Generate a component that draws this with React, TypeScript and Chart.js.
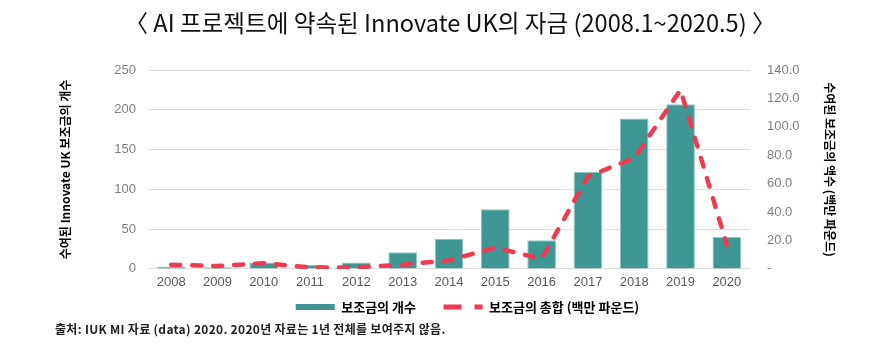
import React, { useEffect, useRef } from 'react';
import { Chart, registerables } from 'chart.js';

Chart.register(...registerables);

const years = ['2008', '2009', '2010', '2011', '2012', '2013', '2014', '2015', '2016', '2017', '2018', '2019', '2020'];
const grantCounts = [3, 2, 8, 5, 8, 21, 38, 75, 36, 122, 189, 207, 40];
const grantTotals = [3, 2, 4, 1, 1, 3, 6, 15, 7, 65, 78, 126, 17];

const countMax = 250;
const countStep = 50;
const totalMax = 140;
const totalStep = 20;

const titleText = '〈 AI 프로젝트에 약속된 Innovate UK의 자금 (2008.1~2020.5) 〉';
const countLabel = '보조금의 개수';
const totalLabel = '보조금의 총합 (백만 파운드)';
const leftAxisTitle = '수여된 Innovate UK 보조금의 개수';
const rightAxisTitle = '수여된 보조금의 액수 (백만 파운드)';
const sourceNote = '출처: IUK MI 자료 (data) 2020. 2020년 자료는 1년 전체를 보여주지 않음.';

const TEAL = '#3f9794';
const TEAL_EDGE = '#8fc6c3';
const RED = '#ef3a52';
const KR = '"Noto Sans CJK KR", "Noto Sans", sans-serif';
const LATIN = '"Liberation Sans", Arial, sans-serif';

export default function App() {
  const canvasRef = useRef<HTMLCanvasElement | null>(null);

  useEffect(() => {
    if (!canvasRef.current) return;
    const chart = new Chart(canvasRef.current, {
      type: 'bar',
      data: {
        labels: years,
        datasets: [
          {
            type: 'bar',
            label: countLabel,
            data: grantCounts,
            yAxisID: 'y',
            backgroundColor: TEAL,
            borderColor: TEAL_EDGE,
            borderWidth: 1,
            categoryPercentage: 1,
            barPercentage: 0.62,
            order: 2,
          },
          {
            type: 'line',
            label: totalLabel,
            data: grantTotals,
            yAxisID: 'y1',
            borderColor: RED,
            backgroundColor: RED,
            borderWidth: 4.5,
            borderDash: [9, 12],
            borderCapStyle: 'round',
            pointRadius: 0,
            tension: 0,
            fill: false,
            order: 1,
          },
        ],
      },
      options: {
        responsive: false,
        animation: false,
        layout: { padding: { top: 70, left: 56, right: 0, bottom: 30.5 } },
        plugins: {
          tooltip: { enabled: false },
          title: { display: false },
          legend: {
            position: 'bottom',
            labels: {
              usePointStyle: true,
              pointStyleWidth: 39,
              boxHeight: 6,
              padding: 4,
              color: '#333333',
              font: { family: KR, size: 13, weight: 'bold' },
              generateLabels: () => [
                {
                  text: countLabel + '        ',
                  fillStyle: TEAL,
                  strokeStyle: TEAL,
                  lineWidth: 0,
                  pointStyle: 'rect',
                  hidden: false,
                  datasetIndex: 0,
                },
                {
                  text: totalLabel,
                  fillStyle: RED,
                  strokeStyle: RED,
                  lineWidth: 5,
                  lineDash: [18, 13],
                  lineCap: 'butt',
                  pointStyle: 'line',
                  hidden: false,
                  datasetIndex: 1,
                },
              ],
            },
          },
        },
        scales: {
          x: {
            grid: { display: false, drawTicks: false },
            border: { display: false },
            ticks: { color: '#595959', font: { family: LATIN, size: 13 }, padding: 6, maxRotation: 0 },
          },
          y: {
            position: 'left',
            min: 0,
            max: countMax,
            ticks: { stepSize: countStep, color: '#7f7f7f', font: { family: LATIN, size: 13 }, padding: 12 },
            grid: { color: '#dedede', lineWidth: 1, drawTicks: false },
            border: { display: false },
            title: {
              display: true,
              text: leftAxisTitle,
              color: '#000000',
              font: { family: KR, size: 12, weight: 'bold' },
              padding: { top: 2, bottom: 0 },
            },
            afterFit: (scale: any) => {
              scale.width = 92;
            },
          },
          y1: {
            position: 'right',
            min: 0,
            max: totalMax,
            ticks: {
              stepSize: totalStep,
              color: '#7f7f7f',
              font: { family: LATIN, size: 13 },
              padding: 17,
              callback: (v: any) => (Number(v) === 0 ? '-' : Number(v).toFixed(1)),
            },
            grid: { display: false, drawTicks: false },
            border: { display: false },
            title: {
              display: true,
              text: rightAxisTitle,
              color: '#000000',
              font: { family: KR, size: 12, weight: 'bold' },
              padding: { top: 42, bottom: 0 },
            },
            afterFit: (scale: any) => {
              scale.width = 129;
            },
          },
        },
      },
    } as any);
    return () => chart.destroy();
  }, []);

  return (
    <div style={{ position: 'absolute', left: 0, top: 0, width: 879, height: 354, background: '#ffffff', overflow: 'hidden' }}>
      <canvas ref={canvasRef} width={879} height={354} style={{ position: 'absolute', left: 0, top: 0, width: 879, height: 354 }} />
      <div style={{ position: 'absolute', left: 0, top: 6, width: 900, textAlign: 'center', lineHeight: '32px' }}>
        <span
          style={{
            display: 'inline-block',
            whiteSpace: 'nowrap',
            fontFamily: KR,
            fontSize: 23.6,
            fontWeight: 400,
            color: '#111111',
          }}
        >
          {titleText}
        </span>
      </div>
      <div
        style={{
          position: 'absolute',
          left: 55,
          top: 321,
          whiteSpace: 'nowrap',
          fontFamily: KR,
          fontSize: 12,
          fontWeight: 700,
          letterSpacing: '0.3px',
          lineHeight: '16px',
          color: '#222222',
        }}
      >
        {sourceNote}
      </div>
    </div>
  );
}
